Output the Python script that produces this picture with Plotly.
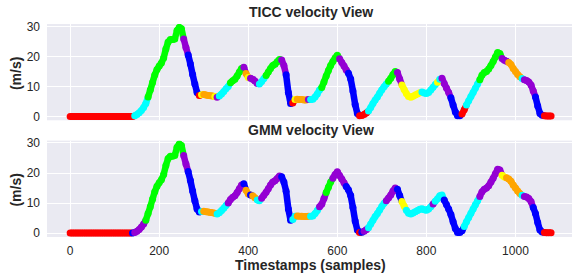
import bisect
import plotly.graph_objects as go

# ---------------- data ----------------
samples = list(range(0, 1085, 5))

velocity = [
    # 0 - 135
    0.0, 0.0, 0.0, 0.0, 0.0, 0.0, 0.0, 0.0, 0.0, 0.0, 0.0, 0.0, 0.0, 0.0,
    0.0, 0.0, 0.0, 0.0, 0.0, 0.0, 0.0, 0.0, 0.0, 0.0, 0.0, 0.0, 0.0, 0.0,
    # 140 - 195
    0.0, 0.2, 0.6, 1.2, 2.0, 3.0, 4.3, 6.5, 8.8, 11.3, 13.8, 15.6,
    # 200 - 295
    16.8, 17.8, 19.5, 22.5, 24.8, 25.6, 25.6, 25.8, 28.6, 29.7,
    29.2, 25.8, 23.0, 20.5, 17.5, 14.0, 10.8, 8.0, 7.0, 7.2,
    # 300 - 395
    7.3, 7.1, 7.0, 6.9, 6.8, 6.6, 6.4, 6.8, 7.5, 8.3,
    9.2, 10.0, 11.2, 11.9, 12.4, 13.5, 14.8, 16.0, 16.4, 14.3,
    # 400 - 495
    13.0, 12.7, 12.4, 11.8, 11.0, 10.8, 11.6, 12.6, 13.6, 14.8,
    16.0, 17.0, 17.4, 18.2, 19.0, 18.8, 17.0, 13.9, 8.0, 4.3,
    # 500 - 595
    4.5, 5.6, 5.7, 5.6, 5.6, 5.5, 5.5, 5.6, 5.6, 5.7,
    6.5, 7.5, 8.8, 9.6, 11.5, 13.5, 15.3, 17.0, 18.3, 19.5,
    # 600 - 695
    20.4, 19.2, 18.0, 16.8, 15.5, 14.4, 12.5, 8.5, 4.0, 1.0,
    0.2, 0.3, 0.6, 1.1, 1.8, 3.0, 4.3, 5.5, 6.5, 7.7,
    # 700 - 795
    8.9, 9.9, 10.8, 11.7, 12.7, 14.0, 15.0, 14.6, 12.5, 10.5,
    9.0, 7.6, 6.6, 6.4, 6.7, 7.1, 7.5, 7.9, 8.1, 7.8,
    # 800 - 895
    7.6, 8.0, 8.8, 9.7, 10.6, 11.4, 12.4, 12.7, 11.0, 9.5,
    8.0, 6.2, 3.8, 1.5, 0.2, 0.2, 0.8, 2.2, 3.8, 5.2,
    # 900 - 995
    6.6, 8.0, 9.4, 10.8, 12.2, 13.8, 14.6, 15.0, 15.8, 17.0,
    18.3, 19.8, 21.3, 21.0, 19.3, 18.7, 18.4, 18.0, 17.3, 16.0,
    # 1000 - 1080
    15.0, 14.0, 13.2, 12.6, 12.2, 12.0, 11.5, 10.5, 8.5, 6.5,
    3.5, 1.0, 0.4, 0.2, 0.1, 0.1, 0.1,
]

cluster_colors = {
    "red": "#FF0000",
    "cyan": "#00FFFF",
    "green": "#00FF00",
    "purple": "#9400D3",
    "blue": "#0000FF",
    "orange": "#FFA500",
    "yellow": "#FFFF00",
}

# segment start sample and cluster of each segment
ticc_starts = [0, 145, 175, 255, 265, 290, 295, 300, 325, 330, 335, 360, 390, 395,
               400, 405, 425, 440, 475, 485, 500, 505, 510, 535, 540, 565, 605,
               625, 650, 670, 715, 735, 745, 790, 825, 830, 835, 855, 880, 890,
               920, 970, 985, 1015, 1020, 1045, 1065]
ticc_labels = ["red", "cyan", "green", "purple", "blue", "red", "yellow", "orange",
               "yellow", "purple", "cyan", "green", "purple", "orange", "yellow",
               "purple", "cyan", "green", "purple", "blue", "red", "yellow",
               "orange", "purple", "cyan", "green", "purple", "blue", "red",
               "cyan", "green", "purple", "yellow", "cyan", "yellow", "cyan",
               "purple", "blue", "red", "cyan", "green", "purple", "orange",
               "cyan", "purple", "blue", "red"]

gmm_starts = [0, 140, 145, 170, 255, 265, 295, 300, 330, 355, 390, 395, 405, 410,
              420, 430, 475, 500, 510, 540, 560, 575, 590, 620, 650, 655, 660,
              670, 710, 735, 745, 755, 815, 820, 840, 885, 920, 970, 980, 1015,
              1020, 1040, 1065]
gmm_labels = ["red", "blue", "purple", "green", "purple", "blue", "cyan", "orange",
              "cyan", "purple", "blue", "orange", "blue", "orange", "cyan",
              "purple", "blue", "cyan", "orange", "cyan", "purple", "green",
              "purple", "blue", "red", "blue", "purple", "cyan", "purple", "blue",
              "yellow", "cyan", "purple", "cyan", "blue", "cyan", "purple",
              "yellow", "orange", "cyan", "purple", "blue", "red"]

x_ticks = [0, 200, 400, 600, 800, 1000]
y_ticks = [0, 10, 20, 30]

# ---------------- figure ----------------
FONT = "Liberation Sans, Arial, sans-serif"
TXT = "#262626"


def point_labels(starts, labels):
    return [labels[bisect.bisect_right(starts, t) - 1] for t in samples]


fig = go.Figure()


def add_panel(starts, labels, xa, ya):
    labs = point_labels(starts, labels)
    for name, hexc in cluster_colors.items():
        xs, ys = [], []
        for i in range(len(samples) - 1):
            if labs[i] == name:
                xs += [samples[i], samples[i + 1], None]
                ys += [velocity[i], velocity[i + 1], None]
        if xs:
            fig.add_trace(go.Scatter(x=xs, y=ys, mode="lines",
                                     line=dict(color=hexc, width=6.5),
                                     xaxis=xa, yaxis=ya, showlegend=False,
                                     hoverinfo="skip"))
    fig.add_trace(go.Scatter(x=samples, y=velocity, mode="markers",
                             marker=dict(size=7, color=[cluster_colors[l] for l in labs],
                                         line=dict(width=0)),
                             xaxis=xa, yaxis=ya, showlegend=False))


add_panel(ticc_starts, ticc_labels, "x2", "y2")
add_panel(gmm_starts, gmm_labels, "x", "y")

axis_common = dict(showgrid=True, gridcolor="white", gridwidth=1, zeroline=False,
                   showline=False, ticks="", automargin=False,
                   tickfont=dict(family=FONT, size=12, color=TXT))

fig.update_layout(
    width=572, height=279,
    margin=dict(l=47, r=0, t=24, b=42, autoexpand=False),
    paper_bgcolor="white", plot_bgcolor="#EAEAF2",
    font=dict(family=FONT, color=TXT),
    xaxis=dict(domain=[0, 1], range=[-52, 1127], tickvals=x_ticks, anchor="y",
               ticklabelstandoff=5, **axis_common),
    yaxis=dict(domain=[0, 0.4526], range=[-1.3, 30.8], tickvals=y_ticks, anchor="x",
               ticklabelstandoff=6, **axis_common),
    xaxis2=dict(domain=[0, 1], range=[-52, 1127], tickvals=x_ticks, anchor="y2",
                matches="x", showticklabels=False, **axis_common),
    yaxis2=dict(domain=[0.548, 1], range=[-1.3, 30.8], tickvals=y_ticks, anchor="x2",
                ticklabelstandoff=6, **axis_common),
    annotations=[
        dict(text="<b>TICC velocity View</b>", x=0.502, y=1.056, xref="paper", yref="paper",
             showarrow=False, xanchor="center", yanchor="middle",
             font=dict(family=FONT, size=14, color=TXT)),
        dict(text="<b>GMM velocity View</b>", x=0.502, y=0.502, xref="paper", yref="paper",
             showarrow=False, xanchor="center", yanchor="middle",
             font=dict(family=FONT, size=14, color=TXT)),
        dict(text="<b>Timestamps (samples)</b>", x=0.502, y=-0.131, xref="paper", yref="paper",
             showarrow=False, xanchor="center", yanchor="middle",
             font=dict(family=FONT, size=14, color=TXT)),
        dict(text="<b>(m/s)</b>", x=-0.059, y=0.765, xref="paper", yref="paper",
             showarrow=False, xanchor="center", yanchor="middle", textangle=-90,
             font=dict(family=FONT, size=14, color=TXT)),
        dict(text="<b>(m/s)</b>", x=-0.059, y=0.218, xref="paper", yref="paper",
             showarrow=False, xanchor="center", yanchor="middle", textangle=-90,
             font=dict(family=FONT, size=14, color=TXT)),
    ],
)

fig.write_html("out.html", config={"displayModeBar": False},
               post_script="document.body.style.margin='0';document.body.style.overflow='hidden';")
